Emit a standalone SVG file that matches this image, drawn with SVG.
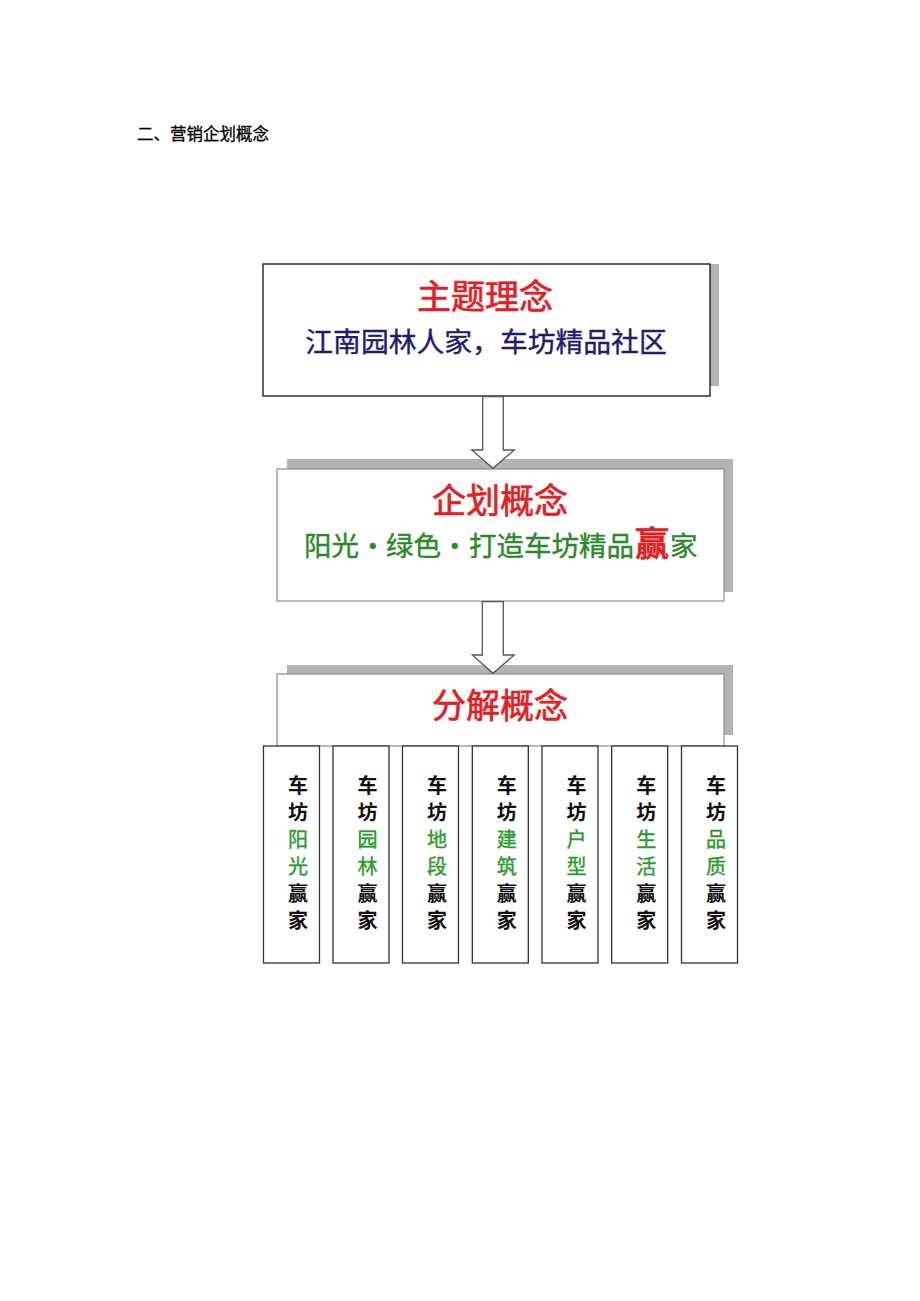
<svg xmlns="http://www.w3.org/2000/svg" width="920" height="1301" viewBox="0 0 920 1301">
<defs>
<style>
.cjk{font-family:"Noto Sans CJK SC","Noto Sans CJK TC",sans-serif;}
.shadow{fill:#b4b4b4;stroke:none;}
.box{fill:#ffffff;}
.head{font-size:34px;fill:#e31e24;stroke:#e31e24;stroke-width:0.7;text-anchor:middle;}
.col{fill:#ffffff;stroke:#333333;stroke-width:1.3;}
.ct{font-size:20px;font-weight:bold;text-anchor:middle;fill:#111111;}
.cg{fill:#2b9a2b;stroke:#2b9a2b;stroke-width:0.4;font-weight:normal;}
.arrow{fill:#ffffff;stroke:#555555;stroke-width:1.3;stroke-linejoin:miter;}
</style>
</defs>
<rect width="920" height="1301" fill="#ffffff"/>
<text x="137" y="140" class="cjk" font-size="16.5" fill="#000000" stroke="#000000" stroke-width="0.3">二、营销企划概念</text>

<g id="node-theme">
<rect class="shadow" x="710" y="264" width="9" height="122"/>
<rect class="box" x="263" y="264" width="447" height="132" stroke="#222222" stroke-width="1.4"/>
<text class="cjk head" x="485" y="309">主题理念</text>
<text class="cjk" x="486" y="352" font-size="27.8" fill="#1e1e70" stroke="#1e1e70" stroke-width="0.4" text-anchor="middle">江南园林人家，车坊精品社区</text>
</g>

<g id="node-plan">
<rect class="shadow" x="287" y="459" width="446" height="133"/>
<rect class="box" x="277" y="469" width="447" height="132" stroke="#8a8a8a" stroke-width="1.2"/>
<text class="cjk head" x="500" y="513">企划概念</text>
<text class="cjk" y="556" font-size="27.5" fill="#2a8a2a" stroke="#2a8a2a" stroke-width="0.4"><tspan x="304">阳光</tspan><tspan x="359">・</tspan><tspan x="386">绿色</tspan><tspan x="441">・</tspan><tspan x="469">打造车坊精品</tspan><tspan x="635" font-size="34" font-weight="bold" fill="#e31e24" stroke="#e31e24">赢</tspan><tspan x="670">家</tspan></text>
</g>

<g id="node-decompose">
<rect class="shadow" x="287" y="665" width="446" height="70"/>
<rect class="box" x="277" y="674" width="447" height="72" stroke="#8a8a8a" stroke-width="1.2"/>
<text class="cjk head" x="500" y="718">分解概念</text>
</g>

<g id="node-col1">
<rect class="col" x="263.5" y="746" width="56" height="217"/>
<text class="cjk ct"><tspan x="298" y="792.5">车</tspan><tspan x="298" y="819.5">坊</tspan><tspan x="298" y="846.5" class="cg">阳</tspan><tspan x="298" y="873.5" class="cg">光</tspan><tspan x="298" y="900.5">赢</tspan><tspan x="298" y="927.5">家</tspan></text>
</g>
<g id="node-col2">
<rect class="col" x="333" y="746" width="56" height="217"/>
<text class="cjk ct"><tspan x="367.5" y="792.5">车</tspan><tspan x="367.5" y="819.5">坊</tspan><tspan x="367.5" y="846.5" class="cg">园</tspan><tspan x="367.5" y="873.5" class="cg">林</tspan><tspan x="367.5" y="900.5">赢</tspan><tspan x="367.5" y="927.5">家</tspan></text>
</g>
<g id="node-col3">
<rect class="col" x="402.5" y="746" width="56" height="217"/>
<text class="cjk ct"><tspan x="437" y="792.5">车</tspan><tspan x="437" y="819.5">坊</tspan><tspan x="437" y="846.5" class="cg">地</tspan><tspan x="437" y="873.5" class="cg">段</tspan><tspan x="437" y="900.5">赢</tspan><tspan x="437" y="927.5">家</tspan></text>
</g>
<g id="node-col4">
<rect class="col" x="472.3" y="746" width="56" height="217"/>
<text class="cjk ct"><tspan x="506.8" y="792.5">车</tspan><tspan x="506.8" y="819.5">坊</tspan><tspan x="506.8" y="846.5" class="cg">建</tspan><tspan x="506.8" y="873.5" class="cg">筑</tspan><tspan x="506.8" y="900.5">赢</tspan><tspan x="506.8" y="927.5">家</tspan></text>
</g>
<g id="node-col5">
<rect class="col" x="542" y="746" width="56" height="217"/>
<text class="cjk ct"><tspan x="576.5" y="792.5">车</tspan><tspan x="576.5" y="819.5">坊</tspan><tspan x="576.5" y="846.5" class="cg">户</tspan><tspan x="576.5" y="873.5" class="cg">型</tspan><tspan x="576.5" y="900.5">赢</tspan><tspan x="576.5" y="927.5">家</tspan></text>
</g>
<g id="node-col6">
<rect class="col" x="611.7" y="746" width="56" height="217"/>
<text class="cjk ct"><tspan x="646.2" y="792.5">车</tspan><tspan x="646.2" y="819.5">坊</tspan><tspan x="646.2" y="846.5" class="cg">生</tspan><tspan x="646.2" y="873.5" class="cg">活</tspan><tspan x="646.2" y="900.5">赢</tspan><tspan x="646.2" y="927.5">家</tspan></text>
</g>
<g id="node-col7">
<rect class="col" x="681.5" y="746" width="56" height="217"/>
<text class="cjk ct"><tspan x="716" y="792.5">车</tspan><tspan x="716" y="819.5">坊</tspan><tspan x="716" y="846.5" class="cg">品</tspan><tspan x="716" y="873.5" class="cg">质</tspan><tspan x="716" y="900.5">赢</tspan><tspan x="716" y="927.5">家</tspan></text>
</g>

<g id="connectors">
<polygon class="arrow" points="482.7,396.7 503.3,396.7 503.3,450 514.3,450 493,468.3 471.7,450 482.7,450"/>
<polygon class="arrow" points="482.3,601.7 503.3,601.7 503.3,655 514.3,655 493,673.3 472.3,655 482.3,655"/>
</g>
</svg>
